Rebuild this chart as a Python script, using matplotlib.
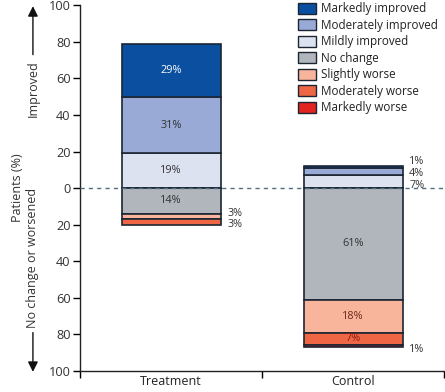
import matplotlib
matplotlib.use("Agg")
import matplotlib.pyplot as plt
from matplotlib.patches import Patch
import matplotlib.transforms as mtransforms

plt.rcParams['font.family'] = ['Open Sans', 'DejaVu Sans']

groups = ["Treatment", "Control"]
improved_cats = ["Markedly improved", "Moderately improved", "Mildly improved"]
worse_cats = ["No change", "Slightly worse", "Moderately worse", "Markedly worse"]
categories = improved_cats + worse_cats
# values (%) per category: [Treatment, Control]
markedly_improved = [29, 1]
moderately_improved = [31, 4]
mildly_improved = [19, 7]
no_change = [14, 61]
slightly_worse = [3, 18]
moderately_worse = [3, 7]
markedly_worse = [0, 1]
values = {
    "Markedly improved": markedly_improved,
    "Moderately improved": moderately_improved,
    "Mildly improved": mildly_improved,
    "No change": no_change,
    "Slightly worse": slightly_worse,
    "Moderately worse": moderately_worse,
    "Markedly worse": markedly_worse,
}
yticks = [100, 80, 60, 40, 20, 0, -20, -40, -60, -80, -100]
ytick_labels = ["100", "80", "60", "40", "20", "0", "20", "40", "60", "80", "100"]

colors = {
    "Markedly improved": "#0b4fa0",
    "Moderately improved": "#9aaad6",
    "Mildly improved": "#dce2f0",
    "No change": "#b0b6bc",
    "Slightly worse": "#f8b59c",
    "Moderately worse": "#ee6643",
    "Markedly worse": "#e2231f",
}
text_colors = {
    "Markedly improved": "white",
    "Moderately improved": "#333333",
    "Mildly improved": "#333333",
    "No change": "#333333",
    "Slightly worse": "#6b2a1a",
    "Moderately worse": "#8b1a10",
    "Markedly worse": "#333333",
}
# labels drawn beside the bar instead of inside
outside = {("Treatment", "Slightly worse"), ("Treatment", "Moderately worse"),
           ("Control", "Markedly improved"), ("Control", "Moderately improved"),
           ("Control", "Mildly improved"), ("Control", "Markedly worse")}

edge = "#1c2633"
fig = plt.figure(figsize=(4.45, 3.92), dpi=100)
ax = fig.add_axes([0.18, 0.0536, 0.818, 0.933])

xpos = [0.5, 1.5]
width = 0.545
lab_fs = 7.8

for gi, g in enumerate(groups):
    x = xpos[gi]
    out_up, out_down = [], []
    base = 0
    for c in reversed(improved_cats):
        v = values[c][gi]
        ax.bar(x, v, width, bottom=base, color=colors[c], edgecolor=edge, linewidth=1.2, zorder=2)
        center = base + v / 2
        if (g, c) in outside:
            out_up.append([center, v])
        else:
            ax.text(x, center, f"{v}%", ha="center", va="center", fontsize=lab_fs,
                    color=text_colors[c], zorder=4)
        base += v
    base = 0
    for c in worse_cats:
        v = values[c][gi]
        if v == 0:
            continue
        ax.bar(x, -v, width, bottom=base, color=colors[c], edgecolor=edge, linewidth=1.2, zorder=2)
        center = base - v / 2
        if (g, c) in outside:
            out_down.append([center, v])
        else:
            ax.text(x, center, f"{v}%", ha="center", va="center", fontsize=lab_fs,
                    color=text_colors[c], zorder=4)
        base -= v
    gap = 6.3
    for lst, sign in ((out_up, 1), (out_down, -1)):
        if not lst:
            continue
        ys = [p[0] for p in lst]
        new = [ys[0]]
        for y in ys[1:]:
            if sign > 0:
                new.append(max(y, new[-1] + gap))
            else:
                new.append(min(y, new[-1] - gap))
        shift = (sum(ys) - sum(new)) / len(ys)
        if len(ys) == 1:
            shift = -1.5 if sign < 0 else 0
        for (yc, v), yn in zip(lst, new):
            ax.text(x + width / 2 + 0.035, yn + shift, f"{v}%", ha="left", va="center",
                    fontsize=lab_fs, color="#333333")

ax.axhline(0, color="#4f6f82", lw=1.0, ls=(0, (3, 3)), zorder=3)

ax.set_xlim(0, 2)
ax.set_ylim(-100, 100)
ax.set_yticks(yticks)
ax.set_yticklabels(ytick_labels, fontsize=9.2, color="#333333")
ax.set_xticks([0, 1, 2])
ax.set_xticklabels([])
ax.set_xticks(xpos, minor=True)
ax.set_xticklabels(groups, minor=True, fontsize=9, color="#222222")
ax.tick_params(axis="x", which="minor", length=0, pad=3)
ax.tick_params(axis="x", which="major", length=5, width=1.0, direction="out")
ax.tick_params(axis="y", length=5, width=1.0, pad=2)
for s in ("top", "right"):
    ax.spines[s].set_visible(False)
for s in ("left", "bottom"):
    ax.spines[s].set_linewidth(1.0)
    ax.spines[s].set_color("#222222")

ax.set_ylabel("Patients (%)", fontsize=9, color="#333333", labelpad=18)

xa = 0.074
blend = mtransforms.blended_transform_factory(fig.transFigure, ax.transData)
ax.text(xa, 54.5, "Improved", rotation=90, ha="center", va="center", fontsize=9,
        color="#333333", transform=blend)
ax.text(xa, -38, "No change or worsened", rotation=90, ha="center", va="center",
        fontsize=9, color="#333333", transform=blend)
ax.annotate("", xy=(xa, 99.5), xytext=(xa, 73), xycoords=blend, textcoords=blend,
            arrowprops=dict(arrowstyle="-|>", color="#111111", lw=1.0, mutation_scale=15,
                            shrinkA=0, shrinkB=0), annotation_clip=False)
ax.annotate("", xy=(xa, -100.5), xytext=(xa, -79), xycoords=blend, textcoords=blend,
            arrowprops=dict(arrowstyle="-|>", color="#111111", lw=1.0, mutation_scale=15,
                            shrinkA=0, shrinkB=0), annotation_clip=False)

handles = [Patch(facecolor=colors[c], edgecolor=edge, linewidth=1.0) for c in categories]
leg = fig.legend(handles, categories, loc="upper right", bbox_to_anchor=(1.0, 1.012),
                 frameon=False, fontsize=8.4, handlelength=1.5, handleheight=1.05,
                 handletextpad=0.45, labelspacing=0.3, borderaxespad=0.2)
for t in leg.get_texts():
    t.set_color("#222222")

fig.savefig("out.png", dpi=100)
